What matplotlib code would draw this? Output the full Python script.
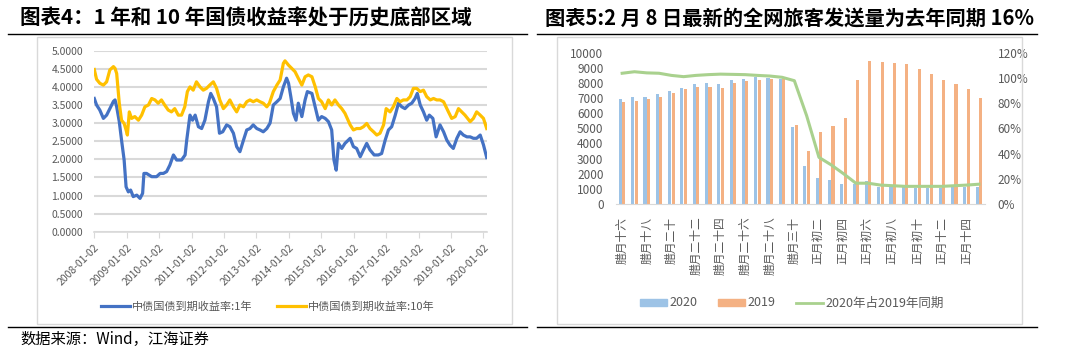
import numpy as np
import matplotlib
matplotlib.use("Agg")
import matplotlib.pyplot as plt
from matplotlib.lines import Line2D
from matplotlib.patches import Patch, Rectangle

plt.rcParams['font.family'] = ['Noto Sans CJK SC', 'DejaVu Sans']

# ---- left chart: 1Y / 10Y government bond yields ----
t_1y = [2008.00, 2008.07, 2008.17, 2008.28, 2008.38, 2008.48, 2008.59, 2008.64, 2008.69, 2008.77,
        2008.84, 2008.92, 2008.98, 2009.05, 2009.12, 2009.20, 2009.31, 2009.41, 2009.49, 2009.53,
        2009.61, 2009.77, 2009.92, 2010.03, 2010.13, 2010.23, 2010.33, 2010.44, 2010.54, 2010.69,
        2010.80, 2010.85, 2010.95, 2011.03, 2011.11, 2011.21, 2011.31, 2011.41, 2011.52, 2011.59,
        2011.67, 2011.77, 2011.86, 2011.96, 2012.08, 2012.18, 2012.29, 2012.39, 2012.49, 2012.60,
        2012.70, 2012.80, 2012.90, 2013.01, 2013.11, 2013.21, 2013.32, 2013.42, 2013.52, 2013.63,
        2013.73, 2013.83, 2013.93, 2013.99, 2014.06, 2014.14, 2014.22, 2014.29, 2014.40, 2014.50,
        2014.57, 2014.71, 2014.81, 2014.91, 2015.01, 2015.12, 2015.22, 2015.32, 2015.39, 2015.46,
        2015.53, 2015.63, 2015.73, 2015.89, 2015.99, 2016.09, 2016.20, 2016.30, 2016.40, 2016.50,
        2016.63, 2016.76, 2016.86, 2016.97, 2017.07, 2017.17, 2017.28, 2017.38, 2017.48, 2017.58,
        2017.69, 2017.79, 2017.89, 2017.96, 2018.05, 2018.15, 2018.25, 2018.33, 2018.44, 2018.54,
        2018.66, 2018.77, 2018.87, 2018.97, 2019.07, 2019.18, 2019.28, 2019.38, 2019.49, 2019.59,
        2019.69, 2019.79, 2019.90, 2020.00, 2020.10]
y_1y = [3.68, 3.50, 3.36, 3.13, 3.22, 3.40, 3.60, 3.64, 3.45, 3.04,
        2.53, 1.98, 1.24, 1.10, 1.15, 0.97, 1.01, 0.92, 1.06, 1.61,
        1.61, 1.52, 1.52, 1.61, 1.61, 1.66, 1.84, 2.12, 1.98, 1.98,
        2.12, 2.53, 3.22, 3.08, 3.22, 2.90, 2.85, 3.08, 3.59, 3.82,
        3.68, 3.45, 2.72, 2.76, 2.95, 2.90, 2.72, 2.35, 2.21, 2.53,
        2.81, 2.85, 2.95, 2.85, 2.81, 2.76, 2.85, 3.00, 3.50, 3.59,
        3.68, 4.00, 4.24, 4.10, 3.73, 3.27, 3.08, 3.55, 3.18, 3.64,
        3.87, 3.82, 3.45, 3.08, 3.18, 3.13, 3.04, 2.81, 1.98, 1.70,
        2.44, 2.30, 2.44, 2.58, 2.35, 2.30, 2.07, 2.26, 2.44, 2.26,
        2.12, 2.12, 2.16, 2.53, 2.81, 2.90, 3.22, 3.55, 3.45, 3.40,
        3.50, 3.55, 3.68, 3.82, 3.50, 3.31, 3.08, 3.22, 3.13, 2.62,
        2.95, 2.76, 2.53, 2.39, 2.30, 2.58, 2.76, 2.67, 2.62, 2.62,
        2.58, 2.58, 2.67, 2.40, 2.05]

t_10y = [2008.00, 2008.07, 2008.17, 2008.28, 2008.38, 2008.48, 2008.59, 2008.64, 2008.69, 2008.77,
         2008.84, 2008.92, 2008.98, 2009.02, 2009.08, 2009.15, 2009.25, 2009.36, 2009.46, 2009.56,
         2009.67, 2009.77, 2009.87, 2009.97, 2010.07, 2010.17, 2010.28, 2010.38, 2010.48, 2010.59,
         2010.69, 2010.79, 2010.87, 2010.95, 2011.05, 2011.15, 2011.26, 2011.36, 2011.46, 2011.56,
         2011.67, 2011.77, 2011.87, 2011.98, 2012.08, 2012.18, 2012.29, 2012.39, 2012.49, 2012.60,
         2012.70, 2012.80, 2012.90, 2013.01, 2013.11, 2013.21, 2013.32, 2013.40, 2013.52, 2013.63,
         2013.73, 2013.83, 2013.88, 2013.99, 2014.09, 2014.19, 2014.29, 2014.40, 2014.50, 2014.60,
         2014.71, 2014.81, 2014.91, 2015.01, 2015.12, 2015.22, 2015.32, 2015.42, 2015.53, 2015.63,
         2015.73, 2015.89, 2015.99, 2016.09, 2016.20, 2016.30, 2016.40, 2016.50, 2016.61, 2016.71,
         2016.81, 2016.92, 2017.00, 2017.12, 2017.22, 2017.33, 2017.43, 2017.53, 2017.64, 2017.74,
         2017.84, 2017.94, 2018.05, 2018.15, 2018.25, 2018.36, 2018.46, 2018.56, 2018.66, 2018.77,
         2018.92, 2019.02, 2019.13, 2019.23, 2019.33, 2019.43, 2019.59, 2019.69, 2019.79, 2019.90,
         2020.00, 2020.10]
y_10y = [4.48, 4.21, 4.10, 4.05, 4.14, 4.47, 4.56, 4.51, 4.37, 3.55,
         3.08, 2.99, 2.81, 2.67, 3.31, 3.13, 3.18, 3.08, 3.22, 3.45,
         3.50, 3.68, 3.64, 3.55, 3.64, 3.50, 3.36, 3.31, 3.40, 3.22,
         3.22, 3.45, 3.87, 4.00, 3.91, 4.14, 4.00, 3.91, 3.96, 4.05,
         4.14, 3.96, 3.64, 3.40, 3.50, 3.64, 3.45, 3.31, 3.50, 3.45,
         3.59, 3.64, 3.59, 3.64, 3.59, 3.55, 3.45, 3.55, 3.87, 4.05,
         4.19, 4.65, 4.72, 4.60, 4.51, 4.42, 4.24, 4.05, 4.28, 4.33,
         4.28, 4.01, 3.68, 3.59, 3.40, 3.64, 3.50, 3.64, 3.50, 3.40,
         3.27, 2.95, 2.81, 2.85, 2.85, 2.90, 2.99, 2.85, 2.76, 2.67,
         2.72, 2.95, 3.40, 3.31, 3.45, 3.68, 3.59, 3.64, 3.64, 3.73,
         3.96, 3.96, 3.87, 3.91, 3.73, 3.64, 3.68, 3.64, 3.64, 3.59,
         3.31, 3.13, 3.18, 3.40, 3.31, 3.22, 3.04, 3.13, 3.31, 3.22,
         3.13, 2.85]

years = list(range(2008, 2021))
year_labels = [f"{y}-01-02" for y in years]
yield_ticks = [0, 0.5, 1, 1.5, 2, 2.5, 3, 3.5, 4, 4.5, 5]

# ---- right chart: passengers sent during Spring Festival travel ----
days = ['腊月十六', '腊月十七', '腊月十八', '腊月十九', '腊月二十', '腊月二十一', '腊月二十二',
        '腊月二十三', '腊月二十四', '腊月二十五', '腊月二十六', '腊月二十七', '腊月二十八',
        '腊月二十九', '腊月三十', '正月初一', '正月初二', '正月初三', '正月初四', '正月初五',
        '正月初六', '正月初七', '正月初八', '正月初九', '正月初十', '正月十一', '正月十二',
        '正月十三', '正月十四', '正月十五']
v2020 = [6920, 7090, 7090, 7250, 7490, 7690, 7910, 7980, 7960, 8170, 8280, 8420, 8310, 8240, 5070,
         2510, 1700, 1590, 1320, 1320, 1520, 1150, 1190, 1190, 1040, 1040, 1040, 1150, 1150, 1150]
v2019 = [6740, 6800, 6920, 7050, 7360, 7620, 7750, 7750, 7690, 7980, 8110, 8220, 8250, 8240, 5200,
         3500, 4740, 5150, 5660, 8200, 9470, 9410, 9340, 9230, 8900, 8570, 8200, 7910, 7580, 6980]
ratio = [1.037, 1.049, 1.04, 1.037, 1.02, 1.01, 1.02, 1.026, 1.03, 1.028, 1.026, 1.02, 1.015, 1.005,
         0.978, 0.70, 0.37, 0.31, 0.24, 0.165, 0.165, 0.15, 0.145, 0.14, 0.14, 0.14, 0.14, 0.145,
         0.15, 0.157]

W, H = 1080, 356
fig = plt.figure(figsize=(W / 100, H / 100), dpi=100)


def box(x0, y0, x1, y1):
    # pixel box (top-left origin) -> figure fraction rect
    return [x0 / W, 1 - y1 / H, (x1 - x0) / W, (y1 - y0) / H]


grey = '#595959'

# titles, rules, frames, footer
fig.text(20 / W, 1 - 18 / H, '图表4：1 年和 10 年国债收益率处于历史底部区域', fontsize=14.8,
         fontweight='bold', va='center', ha='left')
fig.text(545 / W, 1 - 18 / H, '图表5:2 月 8 日最新的全网旅客发送量为去年同期 16%', fontsize=14.6,
         fontweight='bold', va='center', ha='left')
for x0, x1 in [(8, 527), (537, 1037)]:
    fig.add_artist(Line2D([x0 / W, x1 / W], [1 - 33.5 / H] * 2, color='black', lw=1))
    fig.add_artist(Line2D([x0 / W, x1 / W], [1 - 327 / H] * 2, color='black', lw=1))
fig.add_artist(Rectangle((37 / W, 1 - 324 / H), 475 / W, 287 / H, fill=False,
                         edgecolor='#d9d9d9', lw=1))
fig.add_artist(Rectangle((557 / W, 1 - 324 / H), 465 / W, 287 / H, fill=False,
                         edgecolor='#d9d9d9', lw=1))
fig.text(20 / W, 1 - 339 / H, '数据来源：Wind，江海证券', fontsize=11, va='center', ha='left')

# ---- left chart ----
ax1 = fig.add_axes(box(94.3, 50.7, 486.7, 231.7))
ax1.plot(t_1y, y_1y, color='#4472C4', lw=2.3, solid_joinstyle='round')
ax1.plot(t_10y, y_10y, color='#FFC000', lw=2.3, solid_joinstyle='round')
ax1.set_xlim(2008.0, 2020.10)
ax1.set_ylim(0, 5)
ax1.set_yticks(yield_ticks)
ax1.set_yticklabels([f"{v:.4f}" for v in yield_ticks], fontsize=7.5, color=grey)
ax1.set_xticks(years)
ax1.set_xticklabels(year_labels, fontsize=7.5, color=grey, rotation=45, ha='right',
                    rotation_mode='anchor')
ax1.tick_params(axis='y', length=0, pad=8)
ax1.tick_params(axis='x', length=4, color='#d9d9d9', pad=4)
ax1.grid(axis='y', color='#d9d9d9', lw=1.5)
ax1.set_axisbelow(True)
for s in ['top', 'right', 'left']:
    ax1.spines[s].set_visible(False)
ax1.spines['bottom'].set_color('#d9d9d9')
ax1.spines['bottom'].set_linewidth(1.2)

h1 = [Line2D([], [], color='#4472C4', lw=2.3), Line2D([], [], color='#FFC000', lw=2.3)]
fig.legend(h1, ['中债国债到期收益率:1年', '中债国债到期收益率:10年'], loc='center',
           bbox_to_anchor=(268 / W, 1 - 307 / H), ncol=2, frameon=False, fontsize=8,
           handlelength=2.6, handletextpad=0.2, columnspacing=2.2, labelcolor=grey)

# ---- right chart ----
ax2 = fig.add_axes(box(616, 52.7, 985, 204))
x = np.arange(len(days))
ax2.bar(x - 0.14, v2020, width=0.25, color='#9DC3E6', zorder=2)
ax2.bar(x + 0.14, v2019, width=0.25, color='#F4B183', zorder=2)
ax2.set_xlim(-0.5, len(days) - 0.5)
ax2.set_ylim(0, 10000)
ax2.set_yticks(range(0, 10001, 1000))
ax2.set_yticklabels([str(v) for v in range(0, 10001, 1000)], fontsize=8.5, color=grey)
ax2.set_xticks(x[::2])
ax2.set_xticklabels(days[::2], rotation=90, fontsize=8.5, color=grey, va='top', ha='center')
ax2.tick_params(axis='both', length=0)
ax2.tick_params(axis='y', pad=9)
ax2.tick_params(axis='x', pad=9)
for s in ['top', 'right', 'left']:
    ax2.spines[s].set_visible(False)
ax2.spines['bottom'].set_color('#d9d9d9')

ax3 = ax2.twinx()
ax3.plot(x, ratio, color='#A9D18E', lw=2.2, zorder=3)
ax3.set_ylim(0, 1.2)
ax3.set_yticks(np.arange(0, 1.21, 0.2))
ax3.set_yticklabels([f"{int(round(v * 100))}%" for v in np.arange(0, 1.21, 0.2)],
                    fontsize=8.5, color=grey)
ax3.tick_params(axis='y', length=0, pad=9)
for s in ['top', 'right', 'left', 'bottom']:
    ax3.spines[s].set_visible(False)

h2 = [Patch(color='#9DC3E6'), Patch(color='#F4B183'), Line2D([], [], color='#A9D18E', lw=2)]
fig.legend(h2, ['2020', '2019', '2020年占2019年同期'], loc='center',
           bbox_to_anchor=(792 / W, 1 - 303 / H), ncol=3, frameon=False, fontsize=9,
           handlelength=2.2, handleheight=0.5, handletextpad=0.2, columnspacing=1.6,
           labelcolor=grey)

fig.savefig('out.png', dpi=100)
